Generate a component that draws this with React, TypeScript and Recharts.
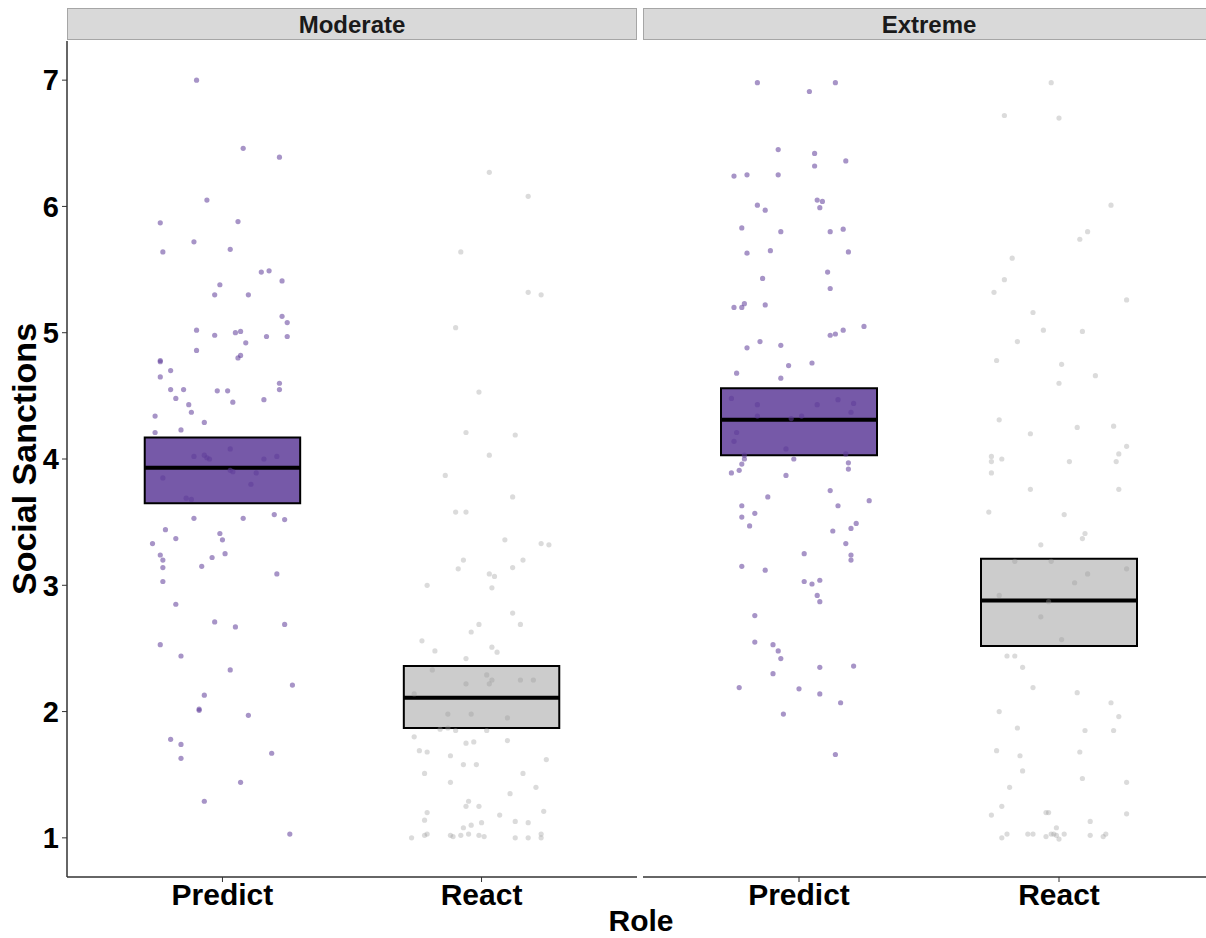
import React from 'react';
import {
  ScatterChart,
  Scatter,
  XAxis,
  YAxis,
  ReferenceArea,
  ReferenceLine,
} from 'recharts';

// facet / category labels
const PANELS = ['Moderate', 'Extreme'];
const ROLES = ['Predict', 'React'];
const Y_TICKS = [1, 2, 3, 4, 5, 6, 7];

// crossbar summaries, one value per role (Predict, React)
const moderateLower = [3.65, 1.87];
const moderateMean = [3.93, 2.11];
const moderateUpper = [4.17, 2.36];
const extremeLower = [4.03, 2.52];
const extremeMean = [4.31, 2.88];
const extremeUpper = [4.56, 3.21];

// jittered raw responses: [role position, rating]
const moderatePredict: [number, number][] = [
  [0.90, 7.00], [1.08, 6.46], [1.22, 6.39], [0.94, 6.05], [0.76, 5.87], [1.06, 5.88], [0.89, 5.72],
  [0.77, 5.64], [1.03, 5.66], [1.15, 5.48], [1.18, 5.49], [1.23, 5.41], [0.99, 5.38], [0.97, 5.30],
  [1.10, 5.30], [1.23, 5.13], [1.25, 5.08], [0.90, 5.02], [0.97, 4.98], [1.05, 5.00], [1.07, 5.01],
  [1.17, 4.97], [1.25, 4.97], [1.09, 4.92], [0.90, 4.86], [1.07, 4.82], [1.06, 4.80], [0.76, 4.78],
  [0.76, 4.77], [0.80, 4.70], [0.76, 4.65], [0.80, 4.55], [0.85, 4.55], [0.98, 4.54], [1.02, 4.54],
  [1.22, 4.60], [1.22, 4.55], [0.82, 4.48], [1.16, 4.47], [1.04, 4.45], [0.87, 4.43], [0.88, 4.37],
  [0.74, 4.34], [0.93, 4.29], [0.74, 4.21], [0.84, 4.23],
  [1.03, 4.08], [0.89, 4.02], [0.93, 4.03], [0.94, 4.01], [0.95, 4.00], [1.16, 4.00], [1.21, 4.02],
  [1.03, 3.91], [1.04, 3.90], [1.13, 3.89], [1.11, 3.80], [0.77, 3.85], [0.86, 3.69], [0.88, 3.68],
  [0.89, 3.53], [1.08, 3.53], [1.20, 3.56], [1.24, 3.52], [0.78, 3.44], [0.82, 3.37], [0.99, 3.41],
  [1.00, 3.36], [0.73, 3.33], [0.76, 3.24], [0.77, 3.20], [0.77, 3.14], [0.96, 3.22], [1.01, 3.25],
  [0.92, 3.15], [1.21, 3.09], [0.77, 3.03], [0.82, 2.85], [0.97, 2.71], [1.05, 2.67], [1.24, 2.69],
  [0.76, 2.53], [0.84, 2.44], [1.03, 2.33], [1.27, 2.21], [0.93, 2.13], [0.91, 2.02], [0.91, 2.01],
  [1.10, 1.97], [0.80, 1.78], [0.84, 1.74], [0.84, 1.63], [1.19, 1.67], [1.07, 1.44], [0.93, 1.29],
  [1.26, 1.03],
];

const moderateReact: [number, number][] = [
  [2.03, 6.27], [2.18, 6.08], [1.92, 5.64], [2.18, 5.32], [2.23, 5.30], [1.90, 5.04], [1.99, 4.53],
  [1.94, 4.21], [2.13, 4.19], [2.03, 4.03],
  [1.86, 3.87], [2.12, 3.70], [1.90, 3.58], [1.94, 3.58], [2.09, 3.36], [2.23, 3.33], [2.26, 3.32],
  [1.93, 3.20], [1.91, 3.13], [2.16, 3.20], [2.12, 3.14], [2.03, 3.09], [2.05, 3.07], [1.79, 3.00],
  [2.04, 2.98], [2.12, 2.78], [2.15, 2.69], [1.99, 2.69], [1.96, 2.63], [1.77, 2.56], [1.82, 2.48],
  [2.04, 2.51], [2.06, 2.47], [1.94, 2.42],
  [1.81, 2.33], [2.02, 2.29], [2.04, 2.25], [2.15, 2.25], [2.20, 2.25], [1.94, 2.22], [2.03, 2.22],
  [1.74, 2.14], [1.87, 1.98], [1.96, 1.98], [2.10, 1.95],
  [1.84, 1.86], [1.87, 1.87], [1.90, 1.85], [2.02, 1.85], [1.74, 1.80], [2.10, 1.77], [1.94, 1.75],
  [1.97, 1.76], [1.76, 1.69], [1.79, 1.68], [1.88, 1.65], [1.93, 1.58], [1.98, 1.58], [2.25, 1.62],
  [1.78, 1.51], [2.16, 1.51], [1.88, 1.44], [2.21, 1.40], [2.11, 1.35], [1.95, 1.29], [1.94, 1.25],
  [1.99, 1.25], [1.79, 1.20], [2.24, 1.21], [2.07, 1.18], [1.78, 1.14], [2.00, 1.12], [2.13, 1.13],
  [2.18, 1.12], [1.93, 1.08], [1.96, 1.10], [1.78, 1.02], [1.79, 1.03], [1.73, 1.00], [1.88, 1.02],
  [1.89, 1.01], [1.92, 1.02], [1.95, 1.03], [1.99, 1.02], [2.01, 1.01], [2.13, 1.00], [2.18, 1.00],
  [2.23, 1.03], [2.23, 1.00],
];

const extremePredict: [number, number][] = [
  [0.84, 6.98], [1.14, 6.98], [1.04, 6.91], [0.92, 6.45], [1.06, 6.42], [1.06, 6.32], [1.18, 6.36],
  [0.75, 6.24], [0.80, 6.25], [0.92, 6.25], [1.07, 6.05], [1.09, 6.04], [1.08, 5.99], [0.84, 6.01],
  [0.87, 5.97], [0.78, 5.83], [0.93, 5.80], [1.12, 5.80], [1.17, 5.82], [0.80, 5.63], [0.89, 5.65],
  [1.19, 5.64], [1.11, 5.48], [0.86, 5.43], [1.12, 5.35], [0.75, 5.20], [0.78, 5.20], [0.79, 5.23],
  [0.87, 5.22], [1.25, 5.05], [1.17, 5.02], [1.14, 4.99], [1.12, 4.98], [0.85, 4.93], [0.80, 4.88],
  [0.93, 4.90], [0.96, 4.74], [1.05, 4.76], [0.76, 4.68], [0.93, 4.64],
  [0.74, 4.48], [0.84, 4.43], [1.07, 4.43], [1.15, 4.47], [1.21, 4.44], [1.20, 4.37], [0.84, 4.34],
  [0.97, 4.32], [1.01, 4.34], [0.76, 4.21], [0.75, 4.14], [0.95, 4.08], [1.18, 4.04], [0.79, 4.03],
  [0.98, 4.00], [0.79, 4.00], [0.78, 3.96], [0.77, 3.91], [0.74, 3.89], [0.95, 3.87], [1.19, 3.97],
  [1.19, 3.92], [1.12, 3.75], [0.88, 3.70], [1.27, 3.67], [0.78, 3.63], [1.15, 3.63], [0.83, 3.57],
  [0.78, 3.54], [0.81, 3.47], [1.22, 3.49], [1.20, 3.45], [1.13, 3.43], [1.18, 3.33], [1.02, 3.25],
  [1.20, 3.24], [1.20, 3.20], [0.78, 3.15], [0.87, 3.12], [1.02, 3.03], [1.05, 3.01], [1.08, 3.04],
  [1.07, 2.92], [1.08, 2.87], [0.83, 2.76], [0.83, 2.55], [0.90, 2.53], [0.92, 2.48], [0.93, 2.42],
  [0.90, 2.30], [1.08, 2.35], [1.21, 2.36], [0.77, 2.19], [1.00, 2.18], [1.08, 2.14], [1.16, 2.07],
  [0.94, 1.98], [1.14, 1.66],
];

const extremeReact: [number, number][] = [
  [1.97, 6.98], [1.79, 6.72], [2.00, 6.70], [2.20, 6.01], [2.11, 5.80], [2.08, 5.74], [1.82, 5.59],
  [1.79, 5.42], [1.75, 5.32], [2.26, 5.26], [1.90, 5.16], [1.94, 5.02], [2.09, 5.01], [1.84, 4.93],
  [1.76, 4.78], [2.01, 4.75], [2.14, 4.66], [2.00, 4.60], [1.77, 4.31], [1.89, 4.20], [2.07, 4.25],
  [2.21, 4.26], [2.26, 4.10], [2.23, 4.04],
  [1.74, 4.02], [1.74, 3.98], [1.78, 4.00], [2.04, 3.98], [2.22, 3.98], [1.74, 3.89], [1.89, 3.76],
  [2.23, 3.76], [1.73, 3.58], [2.02, 3.56], [2.10, 3.41], [2.09, 3.37], [1.93, 3.32],
  [1.83, 3.19], [1.97, 3.19], [2.26, 3.13], [2.11, 3.09], [2.06, 3.02], [1.77, 2.92], [1.96, 2.87],
  [1.93, 2.75], [2.01, 2.57],
  [1.80, 2.44], [1.83, 2.44], [1.86, 2.35], [1.90, 2.19], [2.07, 2.15], [2.20, 2.07], [1.77, 2.00],
  [2.23, 1.96], [1.84, 1.87], [2.10, 1.85], [2.21, 1.85], [1.76, 1.69], [1.85, 1.65], [2.08, 1.68],
  [1.86, 1.53], [2.09, 1.47], [2.26, 1.44], [1.81, 1.40], [1.78, 1.25], [1.74, 1.18], [1.95, 1.20],
  [1.96, 1.20], [2.26, 1.19], [2.12, 1.13], [1.99, 1.08], [1.78, 1.00], [1.80, 1.03], [1.88, 1.03],
  [1.90, 1.03], [1.95, 1.01], [1.97, 1.03], [1.98, 1.03], [1.99, 1.02], [2.00, 0.99], [2.02, 1.03],
  [2.12, 1.02], [2.17, 1.01], [2.18, 1.03],
];

const FONT = '"Liberation Sans", Arial, sans-serif';
const PURPLE = '#5e3c99';
const GREY = '#999999';
const ROLE_COLORS = [PURPLE, GREY];
const BOX_OPACITY = [0.85, 0.5];
const POINT_OPACITY = [0.55, 0.35];
const AXIS_COLOR = '#333';

const toPoints = (rows: [number, number][]) => rows.map(([x, y]) => ({ x, y }));

interface PanelProps {
  width: number;
  showY: boolean;
  groups: [number, number][][];
  lower: number[];
  mean: number[];
  upper: number[];
}

function Panel({ width, showY, groups, lower, mean, upper }: PanelProps) {
  return (
    <ScatterChart width={width} height={938} margin={{ top: 41, right: 0, bottom: 0, left: 0 }}>
      <XAxis
        type="number"
        dataKey="x"
        domain={[0.4, 2.6]}
        ticks={[1, 2]}
        interval={0}
        tickFormatter={(v) => ROLES[Math.round(v) - 1]}
        tick={{ fontSize: 30, fontWeight: 700, fill: '#000', fontFamily: FONT }}
        tickSize={5}
        tickMargin={2}
        tickLine={{ stroke: AXIS_COLOR }}
        axisLine={{ stroke: AXIS_COLOR, strokeWidth: 1.5 }}
        height={61}
      />
      <YAxis
        type="number"
        dataKey="y"
        domain={[0.69, 7.31]}
        ticks={Y_TICKS}
        interval={0}
        hide={!showY}
        width={67}
        tick={{ fontSize: 29, fontWeight: 700, fill: '#000', fontFamily: FONT }}
        tickSize={5}
        tickMargin={3}
        tickLine={{ stroke: AXIS_COLOR }}
        axisLine={{ stroke: AXIS_COLOR, strokeWidth: 1.5 }}
        label={{
          value: 'Social Sanctions',
          angle: -90,
          position: 'insideLeft',
          offset: 24,
          style: { textAnchor: 'middle', fontSize: 34, fontWeight: 700, fill: '#000', fontFamily: FONT },
        }}
      />
      {ROLES.map((role, i) => (
        <ReferenceArea
          key={`box-${role}`}
          x1={i + 0.7}
          x2={i + 1.3}
          y1={lower[i]}
          y2={upper[i]}
          fill={ROLE_COLORS[i]}
          fillOpacity={BOX_OPACITY[i]}
          stroke="#000"
          strokeWidth={2}
          strokeOpacity={1}
        />
      ))}
      {groups.map((rows, i) => (
        <Scatter
          key={`pts-${ROLES[i]}`}
          data={toPoints(rows)}
          isAnimationActive={false}
          shape={(p: any) => (
            <circle cx={p.cx} cy={p.cy} r={2.6} fill={ROLE_COLORS[i]} fillOpacity={POINT_OPACITY[i]} />
          )}
        />
      ))}
      {ROLES.map((role, i) => (
        <ReferenceLine
          key={`mean-${role}`}
          segment={[
            { x: i + 0.7, y: mean[i] },
            { x: i + 1.3, y: mean[i] },
          ]}
          stroke="#000"
          strokeWidth={4}
        />
      ))}
    </ScatterChart>
  );
}

export default function App() {
  const strips = [
    { x: 67, w: 570 },
    { x: 643, w: 572 },
  ];
  return (
    <div
      style={{
        position: 'absolute',
        left: 0,
        top: 0,
        width: 1206,
        height: 938,
        overflow: 'hidden',
        background: '#fff',
        fontFamily: FONT,
      }}
    >
      <div style={{ position: 'absolute', left: 0, top: 0 }}>
        <Panel
          width={637}
          showY
          groups={[moderatePredict, moderateReact]}
          lower={moderateLower}
          mean={moderateMean}
          upper={moderateUpper}
        />
      </div>
      <div style={{ position: 'absolute', left: 643, top: 0 }}>
        <Panel
          width={572}
          showY={false}
          groups={[extremePredict, extremeReact]}
          lower={extremeLower}
          mean={extremeMean}
          upper={extremeUpper}
        />
      </div>
      <svg
        width={1206}
        height={938}
        style={{ position: 'absolute', left: 0, top: 0, pointerEvents: 'none' }}
      >
        {strips.map((s, i) => (
          <g key={PANELS[i]}>
            <rect x={s.x + 0.5} y={8.5} width={s.w - 1} height={31} fill="#d9d9d9" stroke="#a6a6a6" />
            <text
              x={s.x + s.w / 2}
              y={33}
              textAnchor="middle"
              fontSize={24}
              fontWeight={700}
              fill="#1a1a1a"
              fontFamily={FONT}
            >
              {PANELS[i]}
            </text>
          </g>
        ))}
        <text x={641} y={931} textAnchor="middle" fontSize={30} fontWeight={700} fill="#000" fontFamily={FONT}>
          Role
        </text>
      </svg>
    </div>
  );
}
